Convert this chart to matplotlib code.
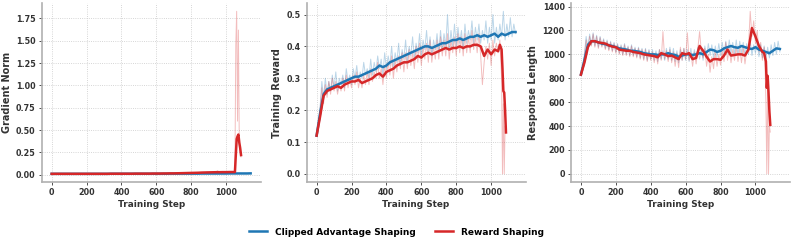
import numpy as np
import matplotlib.pyplot as plt
from matplotlib.lines import Line2D
from matplotlib.ticker import MultipleLocator

# -----------------------------
# DATA
# -----------------------------
BLUE = "#1f77b4"
RED = "#d62728"

# raw logs, one point every 10 steps
raw_x_blue = np.arange(0, 1141, 10)
raw_x_red = np.concatenate([np.arange(0, 1051, 10), [1055, 1060, 1065, 1070, 1075, 1080, 1085]])
# smoothed curves, one point every 20 steps (+ the red tail)
sm_x_blue = np.arange(0, 1141, 20)
sm_x_red = np.concatenate([np.arange(0, 1041, 20), [1050, 1060, 1065, 1070, 1075, 1080, 1085]])

grad_raw_blue = [
    0.012, 0.010, 0.011, 0.009, 0.010, 0.011, 0.010, 0.009, 0.010, 0.011,
    0.010, 0.009, 0.010, 0.011, 0.010, 0.010, 0.009, 0.011, 0.010, 0.010,
    0.011, 0.010, 0.009, 0.010, 0.011, 0.010, 0.010, 0.009, 0.011, 0.010,
    0.010, 0.011, 0.010, 0.009, 0.010, 0.011, 0.010, 0.010, 0.011, 0.010,
    0.010, 0.011, 0.010, 0.010, 0.011, 0.010, 0.011, 0.010, 0.011, 0.010,
    0.011, 0.010, 0.011, 0.011, 0.010, 0.011, 0.010, 0.011, 0.011, 0.010,
    0.011, 0.011, 0.010, 0.011, 0.011, 0.012, 0.011, 0.011, 0.012, 0.011,
    0.011, 0.012, 0.011, 0.012, 0.012, 0.011, 0.012, 0.012, 0.011, 0.012,
    0.012, 0.013, 0.012, 0.012, 0.013, 0.012, 0.013, 0.012, 0.013, 0.013,
    0.012, 0.013, 0.013, 0.012, 0.013, 0.013, 0.014, 0.013, 0.013, 0.014,
    0.013, 0.014, 0.013, 0.014, 0.014, 0.013, 0.014, 0.014, 0.015, 0.014,
    0.014, 0.015, 0.014, 0.015, 0.015,
]
grad_raw_red = [
    0.010, 0.009, 0.011, 0.010, 0.009, 0.010, 0.011, 0.010, 0.009, 0.010,
    0.011, 0.010, 0.010, 0.009, 0.011, 0.010, 0.010, 0.011, 0.010, 0.009,
    0.010, 0.011, 0.010, 0.010, 0.011, 0.010, 0.009, 0.011, 0.010, 0.010,
    0.011, 0.010, 0.011, 0.010, 0.010, 0.011, 0.010, 0.011, 0.010, 0.011,
    0.011, 0.010, 0.011, 0.012, 0.011, 0.010, 0.012, 0.011, 0.012, 0.011,
    0.012, 0.011, 0.012, 0.013, 0.012, 0.011, 0.013, 0.012, 0.013, 0.012,
    0.013, 0.014, 0.012, 0.013, 0.014, 0.013, 0.015, 0.014, 0.013, 0.015,
    0.014, 0.016, 0.015, 0.014, 0.016, 0.017, 0.015, 0.018, 0.016, 0.019,
    0.018, 0.020, 0.019, 0.022, 0.020, 0.024, 0.021, 0.026, 0.023, 0.028,
    0.022, 0.030, 0.025, 0.032, 0.027, 0.045, 0.028, 0.033, 0.026, 0.035,
    0.028, 0.034, 0.027, 0.036, 0.030, 0.038, 1.45, 1.83, 0.60, 1.62,
    0.35, 0.25, 0.20,
]
grad_sm_blue = [
    0.010, 0.010, 0.010, 0.010, 0.010, 0.010, 0.010, 0.010, 0.010, 0.010,
    0.010, 0.010, 0.010, 0.010, 0.010, 0.010, 0.010, 0.011, 0.011, 0.011,
    0.011, 0.011, 0.011, 0.011, 0.011, 0.011, 0.011, 0.011, 0.011, 0.011,
    0.011, 0.011, 0.011, 0.011, 0.012, 0.012, 0.012, 0.012, 0.012, 0.012,
    0.012, 0.012, 0.012, 0.013, 0.013, 0.013, 0.013, 0.013, 0.013, 0.013,
    0.013, 0.014, 0.014, 0.014, 0.014, 0.014, 0.014, 0.015,
]
grad_sm_red = [
    0.010, 0.010, 0.010, 0.010, 0.010, 0.010, 0.010, 0.010, 0.010, 0.010,
    0.010, 0.010, 0.010, 0.010, 0.010, 0.010, 0.010, 0.011, 0.011, 0.011,
    0.011, 0.011, 0.011, 0.011, 0.012, 0.012, 0.012, 0.012, 0.012, 0.013,
    0.013, 0.013, 0.014, 0.014, 0.015, 0.015, 0.016, 0.017, 0.018, 0.019,
    0.020, 0.021, 0.022, 0.024, 0.025, 0.026, 0.027, 0.028, 0.028, 0.029,
    0.029, 0.030, 0.030,
    0.030, 0.40, 0.43, 0.45, 0.36, 0.30, 0.22,
]

reward_raw_blue = [
    0.12, 0.15, 0.21, 0.29, 0.24, 0.30, 0.25, 0.29, 0.26, 0.31,
    0.27, 0.32, 0.26, 0.30, 0.28, 0.31, 0.27, 0.33, 0.29, 0.31,
    0.28, 0.33, 0.30, 0.34, 0.29, 0.32, 0.30, 0.35, 0.31, 0.33,
    0.30, 0.36, 0.31, 0.35, 0.32, 0.37, 0.33, 0.36, 0.31, 0.38,
    0.33, 0.37, 0.34, 0.40, 0.33, 0.38, 0.35, 0.41, 0.34, 0.39,
    0.36, 0.42, 0.35, 0.40, 0.37, 0.43, 0.36, 0.41, 0.38, 0.44,
    0.37, 0.42, 0.39, 0.45, 0.38, 0.43, 0.37, 0.42, 0.39, 0.44,
    0.38, 0.45, 0.39, 0.44, 0.40, 0.50, 0.39, 0.45, 0.40, 0.47,
    0.40, 0.46, 0.41, 0.45, 0.39, 0.47, 0.41, 0.45, 0.42, 0.48,
    0.41, 0.46, 0.42, 0.47, 0.41, 0.45, 0.42, 0.48, 0.41, 0.46,
    0.42, 0.50, 0.41, 0.46, 0.42, 0.47, 0.43, 0.51, 0.42, 0.47,
    0.43, 0.49, 0.43, 0.47, 0.44,
]
reward_raw_red = [
    0.12, 0.14, 0.20, 0.27, 0.22, 0.28, 0.24, 0.29, 0.25, 0.30,
    0.26, 0.29, 0.25, 0.28, 0.26, 0.30, 0.26, 0.31, 0.27, 0.30,
    0.27, 0.31, 0.28, 0.32, 0.27, 0.30, 0.27, 0.31, 0.28, 0.32,
    0.28, 0.33, 0.29, 0.32, 0.30, 0.35, 0.30, 0.33, 0.28, 0.34,
    0.30, 0.35, 0.31, 0.37, 0.30, 0.36, 0.32, 0.37, 0.33, 0.38,
    0.32, 0.38, 0.33, 0.39, 0.34, 0.38, 0.33, 0.40, 0.35, 0.41,
    0.34, 0.40, 0.36, 0.41, 0.35, 0.42, 0.35, 0.40, 0.36, 0.42,
    0.36, 0.43, 0.37, 0.42, 0.37, 0.44, 0.36, 0.42, 0.38, 0.43,
    0.37, 0.44, 0.38, 0.43, 0.37, 0.44, 0.38, 0.43, 0.38, 0.45,
    0.39, 0.43, 0.38, 0.44, 0.37, 0.28, 0.35, 0.40, 0.36, 0.41,
    0.34, 0.42, 0.37, 0.41, 0.38, 0.42,
    0.36, 0.30, 0.00, 0.22, 0.00, 0.15, 0.13,
]
reward_sm_blue = [
    0.12, 0.19, 0.25, 0.265, 0.27, 0.275, 0.28, 0.285, 0.29, 0.295,
    0.30, 0.305, 0.305, 0.31, 0.315, 0.32, 0.325, 0.33, 0.34, 0.335,
    0.34, 0.35, 0.355, 0.36, 0.365, 0.37, 0.375, 0.38, 0.385, 0.39,
    0.395, 0.40, 0.40, 0.395, 0.40, 0.405, 0.41, 0.41, 0.415, 0.42,
    0.42, 0.425, 0.42, 0.425, 0.43, 0.43, 0.435, 0.43, 0.435, 0.43,
    0.435, 0.44, 0.43, 0.44, 0.435, 0.44, 0.445, 0.445,
]
reward_sm_red = [
    0.12, 0.18, 0.245, 0.26, 0.265, 0.27, 0.275, 0.27, 0.28, 0.285,
    0.29, 0.29, 0.295, 0.285, 0.29, 0.295, 0.30, 0.31, 0.315, 0.305,
    0.32, 0.325, 0.33, 0.34, 0.345, 0.35, 0.35, 0.355, 0.36, 0.37,
    0.365, 0.375, 0.38, 0.375, 0.38, 0.385, 0.39, 0.395, 0.39, 0.395,
    0.395, 0.40, 0.395, 0.40, 0.40, 0.405, 0.405, 0.40, 0.37, 0.39,
    0.375, 0.39, 0.385,
    0.405, 0.39, 0.33, 0.26, 0.255, 0.20, 0.13,
]

length_raw_blue = [
    830, 900, 1000, 1150, 1050, 1170, 1080, 1180, 1070, 1160,
    1060, 1150, 1070, 1130, 1050, 1120, 1040, 1110, 1030, 1100,
    1020, 1090, 1010, 1080, 1000, 1090, 1000, 1070, 990, 1080,
    990, 1060, 980, 1060, 970, 1050, 960, 1050, 950, 1040,
    960, 1040, 950, 1030, 940, 1040, 960, 1030, 950, 1050,
    960, 1060, 950, 1050, 940, 1030, 930, 1040, 950, 1050,
    950, 1040, 940, 1050, 950, 1040, 960, 1060, 960, 1050,
    950, 1070, 980, 1090, 990, 1080, 970, 1070, 980, 1090,
    990, 1100, 1000, 1110, 1010, 1120, 1010, 1100, 1000, 1120,
    1000, 1110, 1010, 1100, 990, 1090, 1000, 1110, 990, 1080,
    1010, 1100, 980, 1080, 970, 1070, 960, 1060, 970, 1080,
    990, 1100, 1000, 1110, 1020,
]
length_raw_red = [
    830, 880, 980, 1120, 1040, 1150, 1070, 1170, 1060, 1150,
    1050, 1140, 1060, 1120, 1040, 1110, 1030, 1100, 1020, 1090,
    1010, 1080, 1000, 1070, 990, 1080, 990, 1060, 980, 1070,
    980, 1050, 970, 1050, 960, 1040, 950, 1040, 940, 1030,
    950, 1020, 930, 1010, 920, 1040, 950, 1190, 960, 1030,
    940, 1040, 930, 1020, 900, 1010, 890, 1060, 950, 1050,
    960, 1180, 950, 1010, 900, 1020, 920, 1050, 1190, 1020,
    970, 1050, 900, 1000, 850, 980, 880, 1020, 900, 1000,
    910, 1030, 940, 1100, 950, 1050, 930, 1040, 950, 1060,
    940, 1050, 930, 1060, 920, 1030, 1050, 1360, 1150, 1280,
    1090, 1200, 1020, 1100, 950, 1060,
    900, 600, 0, 800, 0, 400, 350,
]
length_sm_blue = [
    830, 950, 1080, 1110, 1110, 1100, 1090, 1085, 1075, 1070,
    1060, 1050, 1045, 1040, 1030, 1030, 1025, 1020, 1010, 1005,
    1000, 1000, 995, 1000, 1000, 1010, 1000, 995, 980, 990,
    1000, 1000, 995, 1000, 1010, 1000, 1020, 1040, 1035, 1020,
    1030, 1050, 1060, 1070, 1060, 1055, 1070, 1060, 1050, 1045,
    1060, 1040, 1030, 1020, 1010, 1030, 1050, 1045,
]
length_sm_red = [
    830, 930, 1060, 1110, 1110, 1100, 1095, 1090, 1075, 1065,
    1060, 1040, 1035, 1030, 1030, 1020, 1015, 1010, 1000, 995,
    990, 985, 975, 1010, 1000, 985, 990, 975, 960, 1010,
    1000, 1010, 960, 970, 1070, 1030, 980, 940, 960, 960,
    955, 990, 1040, 990, 995, 1000, 1000, 990, 1040, 1220,
    1150, 1070, 1020,
    1010, 940, 720, 820, 680, 520, 410,
]

panels = [
    ("Gradient Norm", grad_raw_blue, grad_raw_red, grad_sm_blue, grad_sm_red, 0.25),
    ("Training Reward", reward_raw_blue, reward_raw_red, reward_sm_blue, reward_sm_red, 0.1),
    ("Response Length", length_raw_blue, length_raw_red, length_sm_blue, length_sm_red, 200),
]
lefts = [0.0526, 0.3867, 0.72]

# -----------------------------
# DRAW
# -----------------------------
fig = plt.figure(figsize=(7.93, 2.45), dpi=100)

for left, (ylabel, rb, rr, sb, sr, ystep) in zip(lefts, panels):
    ax = fig.add_axes([left, 0.257, 0.276, 0.73])
    ax.plot(raw_x_blue, rb, color=BLUE, lw=0.7, alpha=0.3)
    ax.plot(raw_x_red, rr, color=RED, lw=0.7, alpha=0.3)
    ax.plot(sm_x_blue, sb, color=BLUE, lw=1.8)
    ax.plot(sm_x_red, sr, color=RED, lw=1.8)

    ax.set_xlabel("Training Step", fontsize=6.4, fontweight="bold", color="#333333", labelpad=2)
    ax.set_ylabel(ylabel, fontsize=7, fontweight="bold", color="#333333", labelpad=3)
    ax.set_xticks([0, 200, 400, 600, 800, 1000])
    ax.yaxis.set_major_locator(MultipleLocator(ystep))
    ax.grid(True, ls=":", lw=0.6, color="#c8c8c8")
    ax.set_axisbelow(True)
    for s in ["top", "right"]:
        ax.spines[s].set_visible(False)
    for s in ["left", "bottom"]:
        ax.spines[s].set_color("#b0b0b0")
        ax.spines[s].set_linewidth(1.2)
    ax.tick_params(labelsize=5.8, colors="#333333", length=2.5, width=0.6, pad=2)
    for lab in ax.get_xticklabels() + ax.get_yticklabels():
        lab.set_fontweight("bold")

handles = [Line2D([], [], color=BLUE, lw=1.8), Line2D([], [], color=RED, lw=1.8)]
fig.legend(handles, ["Clipped Advantage Shaping", "Reward Shaping"],
           loc="center", bbox_to_anchor=(0.5, 0.053), ncol=2, frameon=False,
           prop={"weight": "bold", "size": 6.5}, columnspacing=2.2, handlelength=2.0)

fig.savefig("out.png", dpi=100)
